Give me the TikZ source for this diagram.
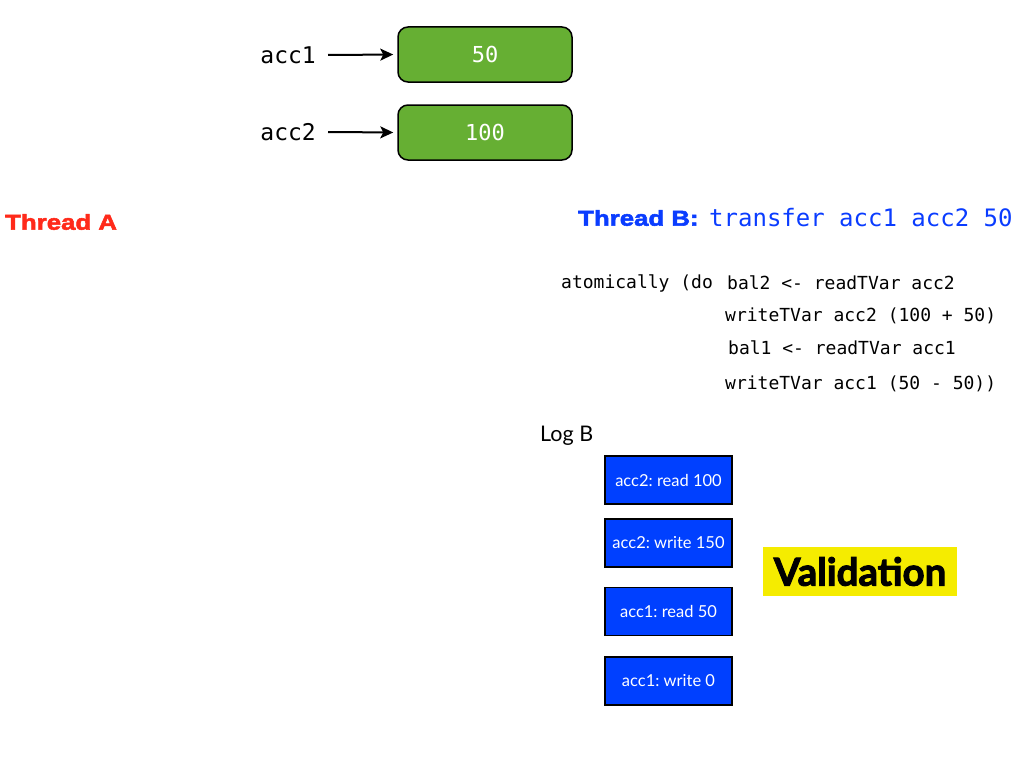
\documentclass[tikz,border=0pt]{standalone}
\usepackage{fontspec}
\setmainfont{Lato}
\setmonofont{DejaVu Sans Mono}
\newfontfamily\helvblack{Liberation Sans}[BoldFeatures={FakeBold=2.5,FakeStretch=1.2}]
\newfontfamily\valfont{Lato}[BoldFeatures={FakeBold=2.5}]
\usetikzlibrary{arrows.meta}
\definecolor{boxgreen}{HTML}{66AF33}
\definecolor{logblue}{HTML}{0040FF}
\definecolor{thblue}{HTML}{0A3CFF}
\definecolor{thred}{HTML}{FF2A1A}
\definecolor{valyellow}{HTML}{F5EC00}
\tikzset{
  tvar/.style={draw=black, line width=1.5pt, fill=boxgreen, rounded corners=10pt,
    minimum width=174pt, minimum height=55pt, inner sep=0pt,
    text=white, font=\ttfamily\fontsize{22}{24}\selectfont},
  varname/.style={font=\ttfamily\fontsize{23}{26}\selectfont, inner sep=0pt},
  ptr/.style={-{Stealth[length=13pt,width=12pt,inset=3pt]}, line width=2pt, shorten >=4pt},
  code/.style={font=\ttfamily\fontsize{18}{20}\selectfont, inner sep=0pt, anchor=west},
  logentry/.style={draw=black, line width=1.5pt, fill=logblue, minimum width=127pt,
    minimum height=48pt, inner sep=0pt, text=white, font=\fontsize{16.5}{18}\selectfont},
  threadlbl/.style={anchor=west, inner sep=0pt, font=\helvblack\bfseries\fontsize{21.5}{24}\selectfont},
}
\begin{document}
\begin{tikzpicture}[x=1pt,y=-1pt]
\useasboundingbox (0,0) rectangle (1024,768);
% TVars
\node[tvar] (v1) at (485,54.5) {50};
\node[tvar] (v2) at (485,132.5) {100};
\node[varname, anchor=east] (n1) at (316,55) {acc1};
\node[varname, anchor=east] (n2) at (316,132) {acc2};
\coordinate (s1) at (328,55);
\coordinate (s2) at (328,132);
\draw[ptr] (s1) -- (v1.west);
\draw[ptr] (s2) -- (v2.west);
% Threads
\node[threadlbl, text=thred] (ta) at (5,222) {Thread A};
\node[threadlbl, text=thblue] (tb) at (578,218) {Thread B:};
\node[anchor=west, inner sep=0pt, text=thblue, font=\ttfamily\fontsize{24}{26}\selectfont] (tbc) at (709,218) {transfer acc1 acc2 50};
% Code
\node[code] (c0) at (561,283) {atomically (do};
\node[code] (c1) at (727,283) {bal2 <- readTVar acc2};
\node[code] (c2) at (725,316) {writeTVar acc2 (100 + 50)};
\node[code] (c3) at (728,348) {bal1 <- readTVar acc1};
\node[code] (c4) at (725,384) {writeTVar acc1 (50 - 50))};
% Log
\node[anchor=west, inner sep=0pt, font=\fontsize{21.5}{24}\selectfont] (logb) at (540,436) {Log B};
\node[logentry] (l1) at (668.5,480) {acc2:\ read 100};
\node[logentry] (l2) at (668.5,543) {acc2:\ write 150};
\node[logentry] (l3) at (668.5,611.5) {acc1:\ read 50};
\node[logentry] (l4) at (668.5,681) {acc1:\ write 0};
% Validation
\node[fill=valyellow, minimum width=194pt, minimum height=49pt, inner sep=0pt,
  font=\valfont\bfseries\fontsize{38.5}{40}\selectfont] (val) at (860,571.5) {Validation};
\end{tikzpicture}
\end{document}
